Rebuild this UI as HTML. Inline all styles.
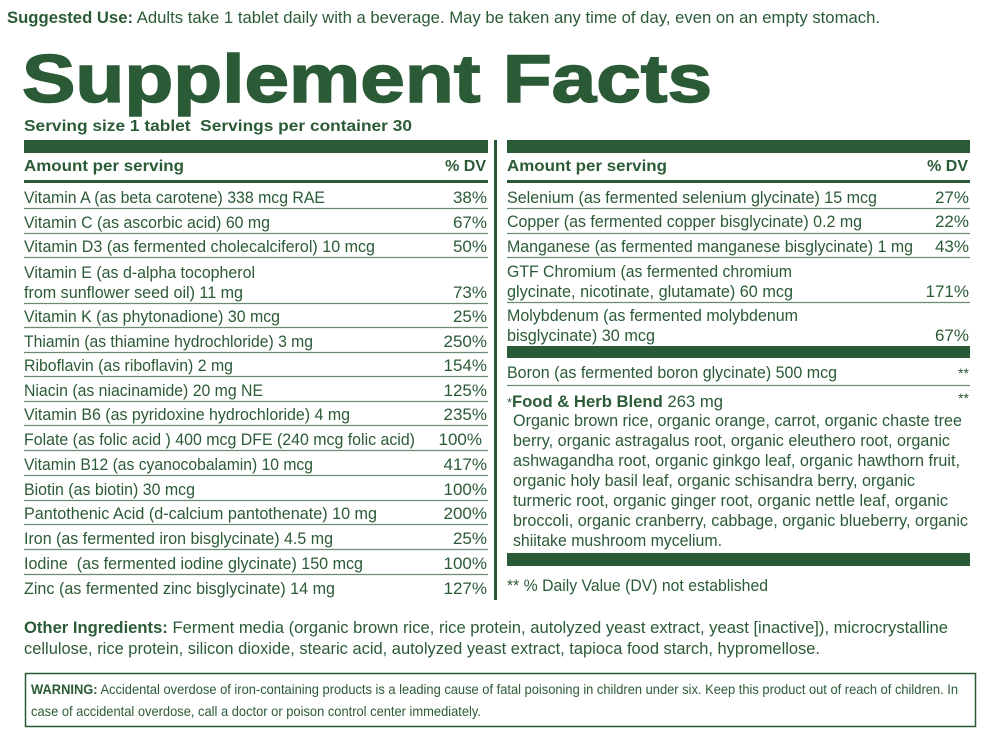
<!DOCTYPE html>
<html><head><meta charset="utf-8"><style>
html,body{margin:0;padding:0;background:#fff;}
svg{display:block;}
text{font-family:"Liberation Sans",sans-serif;fill:#2b5a36;}
.r{font-size:17px;}
.b{font-weight:bold;}
</style></head><body>
<svg width="1000" height="746" viewBox="0 0 1000 746" xmlns="http://www.w3.org/2000/svg">
<text x="7" y="23" class="r" textLength="873" lengthAdjust="spacingAndGlyphs"><tspan class="b">Suggested Use:</tspan> Adults take 1 tablet daily with a beverage. May be taken any time of day, even on an empty stomach.</text>
<text x="22" y="102" font-size="68" font-weight="bold" textLength="690" lengthAdjust="spacingAndGlyphs" stroke="#2b5a36" stroke-width="1.5">Supplement Facts</text>
<text x="24" y="131" font-size="16" font-weight="bold" textLength="388" lengthAdjust="spacingAndGlyphs">Serving size 1 tablet&#160; Servings per container 30</text>
<rect x="24" y="140" width="464" height="13" fill="#2b5a36"/>
<rect x="507" y="140" width="463" height="13" fill="#2b5a36"/>
<rect x="494" y="140" width="3" height="460" fill="#2b5a36"/>
<text x="24" y="171" font-size="16" font-weight="bold" textLength="160" lengthAdjust="spacingAndGlyphs">Amount per serving</text>
<text x="486" y="171" font-size="16" font-weight="bold" text-anchor="end">% DV</text>
<text x="507" y="171" font-size="16" font-weight="bold" textLength="160" lengthAdjust="spacingAndGlyphs">Amount per serving</text>
<text x="968" y="171" font-size="16" font-weight="bold" text-anchor="end">% DV</text>
<rect x="24" y="180" width="464" height="3" fill="#2b5a36"/>
<rect x="507" y="180" width="463" height="3" fill="#2b5a36"/>
<g stroke="#6d8a72" stroke-width="1.3">
<line x1="24" x2="488" y1="208.5" y2="208.5"/><line x1="24" x2="488" y1="233.5" y2="233.5"/><line x1="24" x2="488" y1="257.5" y2="257.5"/>
<line x1="24" x2="488" y1="303.5" y2="303.5"/><line x1="24" x2="488" y1="327.5" y2="327.5"/><line x1="24" x2="488" y1="352.5" y2="352.5"/>
<line x1="24" x2="488" y1="376.5" y2="376.5"/><line x1="24" x2="488" y1="401.5" y2="401.5"/><line x1="24" x2="488" y1="425.5" y2="425.5"/>
<line x1="24" x2="488" y1="450.5" y2="450.5"/><line x1="24" x2="488" y1="475.5" y2="475.5"/><line x1="24" x2="488" y1="500.5" y2="500.5"/>
<line x1="24" x2="488" y1="524.5" y2="524.5"/><line x1="24" x2="488" y1="549.5" y2="549.5"/><line x1="24" x2="488" y1="574.5" y2="574.5"/>
<line x1="507" x2="970" y1="208.5" y2="208.5"/><line x1="507" x2="970" y1="233.5" y2="233.5"/><line x1="507" x2="970" y1="257.5" y2="257.5"/>
<line x1="507" x2="970" y1="302.5" y2="302.5"/><line x1="507" x2="970" y1="385.5" y2="385.5"/>
</g>
<text x="24" y="203" class="r" textLength="301" lengthAdjust="spacingAndGlyphs">Vitamin A (as beta carotene) 338 mcg RAE</text>
<text x="24" y="228" class="r" textLength="246" lengthAdjust="spacingAndGlyphs">Vitamin C (as ascorbic acid) 60 mg</text>
<text x="24" y="252" class="r" textLength="351" lengthAdjust="spacingAndGlyphs">Vitamin D3 (as fermented cholecalciferol) 10 mcg</text>
<text x="24" y="278" class="r" textLength="231" lengthAdjust="spacingAndGlyphs">Vitamin E (as d-alpha tocopherol</text>
<text x="24" y="298" class="r" textLength="219" lengthAdjust="spacingAndGlyphs">from sunflower seed oil) 11 mg</text>
<text x="24" y="322" class="r" textLength="256" lengthAdjust="spacingAndGlyphs">Vitamin K (as phytonadione) 30 mcg</text>
<text x="24" y="347" class="r" textLength="289" lengthAdjust="spacingAndGlyphs">Thiamin (as thiamine hydrochloride) 3 mg</text>
<text x="24" y="371" class="r" textLength="209" lengthAdjust="spacingAndGlyphs">Riboflavin (as riboflavin) 2 mg</text>
<text x="24" y="396" class="r" textLength="239" lengthAdjust="spacingAndGlyphs">Niacin (as niacinamide) 20 mg NE</text>
<text x="24" y="420" class="r" textLength="326" lengthAdjust="spacingAndGlyphs">Vitamin B6 (as pyridoxine hydrochloride) 4 mg</text>
<text x="24" y="445" class="r" textLength="391" lengthAdjust="spacingAndGlyphs">Folate (as folic acid ) 400 mcg DFE (240 mcg folic acid)</text>
<text x="24" y="470" class="r" textLength="289" lengthAdjust="spacingAndGlyphs">Vitamin B12 (as cyanocobalamin) 10 mcg</text>
<text x="24" y="495" class="r" textLength="171" lengthAdjust="spacingAndGlyphs">Biotin (as biotin) 30 mcg</text>
<text x="24" y="519" class="r" textLength="353" lengthAdjust="spacingAndGlyphs">Pantothenic Acid (d-calcium pantothenate) 10 mg</text>
<text x="24" y="544" class="r" textLength="309" lengthAdjust="spacingAndGlyphs">Iron (as fermented iron bisglycinate) 4.5 mg</text>
<text x="24" y="569" class="r" textLength="339" lengthAdjust="spacingAndGlyphs">Iodine&#160; (as fermented iodine glycinate) 150 mcg</text>
<text x="24" y="594" class="r" textLength="311" lengthAdjust="spacingAndGlyphs">Zinc (as fermented zinc bisglycinate) 14 mg</text>
<g text-anchor="end">
<text x="487" y="203" class="r">38%</text><text x="487" y="228" class="r">67%</text><text x="487" y="252" class="r">50%</text>
<text x="487" y="298" class="r">73%</text><text x="487" y="322" class="r">25%</text><text x="487" y="347" class="r">250%</text>
<text x="487" y="371" class="r">154%</text><text x="487" y="396" class="r">125%</text><text x="487" y="420" class="r">235%</text>
<text x="482" y="445" class="r">100%</text><text x="487" y="470" class="r">417%</text><text x="487" y="495" class="r">100%</text>
<text x="487" y="519" class="r">200%</text><text x="487" y="544" class="r">25%</text><text x="487" y="569" class="r">100%</text>
<text x="487" y="594" class="r">127%</text>
<text x="969" y="203" class="r">27%</text><text x="969" y="227" class="r">22%</text><text x="969" y="252" class="r">43%</text>
<text x="969" y="297" class="r">171%</text><text x="969" y="341" class="r">67%</text>
<text x="969" y="378" font-size="14">**</text><text x="969" y="403" font-size="14">**</text>
</g>
<text x="507" y="203" class="r" textLength="370" lengthAdjust="spacingAndGlyphs">Selenium (as fermented selenium glycinate) 15 mcg</text>
<text x="507" y="227" class="r" textLength="355" lengthAdjust="spacingAndGlyphs">Copper (as fermented copper bisglycinate) 0.2 mg</text>
<text x="507" y="252" class="r" textLength="406" lengthAdjust="spacingAndGlyphs">Manganese (as fermented manganese bisglycinate) 1 mg</text>
<text x="507" y="277" class="r" textLength="285" lengthAdjust="spacingAndGlyphs">GTF Chromium (as fermented chromium</text>
<text x="507" y="297" class="r" textLength="286" lengthAdjust="spacingAndGlyphs">glycinate, nicotinate, glutamate) 60 mcg</text>
<text x="507" y="321" class="r" textLength="291" lengthAdjust="spacingAndGlyphs">Molybdenum (as fermented molybdenum</text>
<text x="507" y="341" class="r" textLength="148" lengthAdjust="spacingAndGlyphs">bisglycinate) 30 mcg</text>
<rect x="507" y="346" width="463" height="12" fill="#2b5a36"/>
<text x="507" y="378" class="r" textLength="330" lengthAdjust="spacingAndGlyphs">Boron (as fermented boron glycinate) 500 mcg</text>
<text x="507" y="407" class="r" textLength="216" lengthAdjust="spacingAndGlyphs"><tspan font-size="13">*</tspan><tspan class="b">Food &amp; Herb Blend</tspan> 263 mg</text>
<text x="513" y="426" class="r" textLength="449" lengthAdjust="spacingAndGlyphs">Organic brown rice, organic orange, carrot, organic chaste tree</text>
<text x="513" y="446" class="r" textLength="437" lengthAdjust="spacingAndGlyphs">berry, organic astragalus root, organic eleuthero root, organic</text>
<text x="513" y="466" class="r" textLength="447" lengthAdjust="spacingAndGlyphs">ashwagandha root, organic ginkgo leaf, organic hawthorn fruit,</text>
<text x="513" y="486" class="r" textLength="402" lengthAdjust="spacingAndGlyphs">organic holy basil leaf, organic schisandra berry, organic</text>
<text x="513" y="506" class="r" textLength="435" lengthAdjust="spacingAndGlyphs">turmeric root, organic ginger root, organic nettle leaf, organic</text>
<text x="513" y="526" class="r" textLength="455" lengthAdjust="spacingAndGlyphs">broccoli, organic cranberry, cabbage, organic blueberry, organic</text>
<text x="513" y="546" class="r" textLength="209" lengthAdjust="spacingAndGlyphs">shiitake mushroom mycelium.</text>
<rect x="507" y="553" width="463" height="13" fill="#2b5a36"/>
<text x="507" y="591" class="r" textLength="261" lengthAdjust="spacingAndGlyphs">** % Daily Value (DV) not established</text>
<text x="24" y="633" class="r" textLength="924" lengthAdjust="spacingAndGlyphs"><tspan class="b">Other Ingredients:</tspan> Ferment media (organic brown rice, rice protein, autolyzed yeast extract, yeast [inactive]), microcrystalline</text>
<text x="24" y="654" class="r" textLength="796" lengthAdjust="spacingAndGlyphs">cellulose, rice protein, silicon dioxide, stearic acid, autolyzed yeast extract, tapioca food starch, hypromellose.</text>
<rect x="25.5" y="673.5" width="950" height="53" fill="none" stroke="#2b5a36" stroke-width="1.5"/>
<text x="31" y="694" font-size="14" textLength="927" lengthAdjust="spacingAndGlyphs"><tspan class="b">WARNING:</tspan> Accidental overdose of iron-containing products is a leading cause of fatal poisoning in children under six. Keep this product out of reach of children. In</text>
<text x="31" y="716" font-size="14" textLength="450" lengthAdjust="spacingAndGlyphs">case of accidental overdose, call a doctor or poison control center immediately.</text>
</svg>
</body></html>
